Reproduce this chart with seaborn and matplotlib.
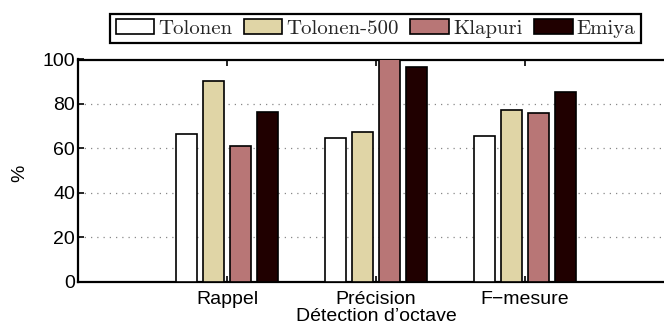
import matplotlib
matplotlib.use("Agg")
import matplotlib.pyplot as plt
import seaborn as sns
import pandas as pd

categories = ["Rappel", "Précision", "F−mesure"]
methods = ["Tolonen", "Tolonen-500", "Klapuri", "Emiya"]
tolonen = [66.3, 64.5, 65.4]
tolonen_500 = [90.3, 67.3, 77.1]
klapuri = [61.0, 100.0, 75.9]
emiya = [76.3, 96.7, 85.2]
colors = ["#FFFFFF", "#E0D5A6", "#B87676", "#200000"]

rows = []
for m, vals in zip(methods, [tolonen, tolonen_500, klapuri, emiya]):
    for c, v in zip(categories, vals):
        rows.append({"cat": c, "method": m, "val": v})
df = pd.DataFrame(rows)

sns.set_theme(style="white")
plt.rcParams["font.family"] = ["Liberation Sans", "DejaVu Sans"]

fig = plt.figure(figsize=(6.64, 3.34), dpi=100)
ax = fig.add_axes([78/664, 1-281.5/334, 596/664, 222/334])

sns.barplot(data=df, x="cat", y="val", hue="method", order=categories,
            hue_order=methods, palette=colors, width=0.727, gap=0.2,
            edgecolor="black", linewidth=1.2, saturation=1, ax=ax,
            errorbar=None, legend=True, zorder=3)

ax.set_xlim(-1, 3)
ax.set_ylim(0, 100)
ax.set_yticks([0, 20, 40, 60, 80, 100])
ax.yaxis.grid(True, linestyle=(0, (1, 4)), color="#888888", linewidth=0.9, zorder=0)
ax.set_axisbelow(True)
for s in ax.spines.values():
    s.set_color("black")
    s.set_linewidth(1.6)
ax.tick_params(axis="both", direction="in", length=4, width=1.2, colors="black",
               labelsize=14, top=True, right=False, bottom=True, left=True, pad=3)
ax.tick_params(axis="x", pad=7)
ax.tick_params(axis="y", pad=2)
ax.set_xlabel("Détection d’octave", fontsize=14, labelpad=0, color="black")
ax.set_ylabel("%", fontsize=14, color="black")
ax.yaxis.set_label_coords(-0.084, 0.489)

handles, labels = ax.get_legend_handles_labels()
ax.get_legend().remove()
leg = fig.legend(handles, labels, loc="center", bbox_to_anchor=(375.5/664, 1-28.5/334),
                 ncol=4, frameon=True, fancybox=False, edgecolor="black",
                 prop={"family": ["cmr10", "DejaVu Serif"], "size": 15},
                 handlelength=1.85, handleheight=0.75, handletextpad=0.2,
                 columnspacing=0.55, borderpad=0.25, borderaxespad=0)
leg.get_frame().set_linewidth(1.6)
leg.get_frame().set_alpha(1)

fig.savefig("out.png", dpi=100)
